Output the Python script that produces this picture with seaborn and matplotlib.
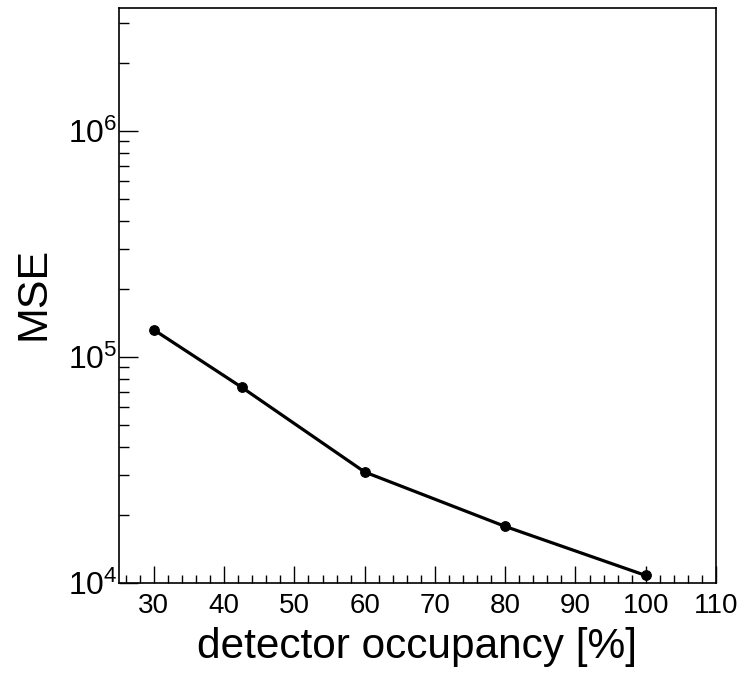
import math
import matplotlib
matplotlib.use("Agg")
import matplotlib.pyplot as plt
import matplotlib.ticker as mticker
import seaborn as sns
import pandas as pd

# Reconstruction error versus detector occupancy
occupancy = [30, 42.5, 60, 80, 100]
mse = [1.32e5, 7.35e4, 3.1e4, 1.78e4, 1.08e4]
x_ticks = [30, 40, 50, 60, 70, 80, 90, 100, 110]

sns.set_style("ticks")
plt.rcParams["font.family"] = ["Liberation Sans", "DejaVu Sans"]
plt.rcParams["mathtext.fontset"] = "custom"
plt.rcParams["mathtext.rm"] = "Liberation Sans"
plt.rcParams["mathtext.it"] = "Liberation Sans"
plt.rcParams["text.color"] = "black"
plt.rcParams["axes.labelcolor"] = "black"
plt.rcParams["xtick.color"] = "black"
plt.rcParams["ytick.color"] = "black"

df = pd.DataFrame({"occupancy": occupancy, "mse": mse})

fig = plt.figure(figsize=(7.42, 6.8), dpi=100)
ax = fig.add_axes([0.16, 0.1426, 0.805, 0.8454])

sns.lineplot(data=df, x="occupancy", y="mse", ax=ax, color="black",
             linewidth=2.3, marker="o", markersize=7,
             markeredgecolor="black", markerfacecolor="black")

ax.set_yscale("log")
ax.set_xlim(25, 110)
ax.set_ylim(1e4, 3.5e6)

ax.set_xticks(x_ticks)
ax.set_xticklabels([str(t) for t in x_ticks])
ax.xaxis.set_minor_locator(mticker.MultipleLocator(2))
ax.yaxis.set_major_locator(mticker.LogLocator(base=10, numticks=10))
ax.yaxis.set_minor_locator(mticker.LogLocator(base=10, subs=range(2, 10), numticks=20))
ax.yaxis.set_minor_formatter(mticker.NullFormatter())
ax.yaxis.set_major_formatter(mticker.FuncFormatter(
    lambda v, p: r"$10^{%d}$" % round(math.log10(v))))

ax.tick_params(axis="x", which="major", direction="in", length=12, width=1,
               labelsize=20, pad=7, top=False)
ax.tick_params(axis="x", which="minor", direction="in", length=6, width=1, top=False)
ax.tick_params(axis="y", which="major", direction="in", length=14, width=1,
               labelsize=23, pad=1, right=False)
ax.tick_params(axis="y", which="minor", direction="in", length=7, width=1, right=False)

for s in ax.spines.values():
    s.set_color("black")
    s.set_linewidth(1.2)
    s.set_visible(True)

ax.set_xlabel("detector occupancy [%]", fontsize=30.5, labelpad=6)
ax.set_ylabel("")
fig.text(33 / 742, 1 - 293 / 680, "MSE", rotation=90, fontsize=31,
         ha="center", va="center")

fig.savefig("out.png", dpi=100, facecolor="white")
